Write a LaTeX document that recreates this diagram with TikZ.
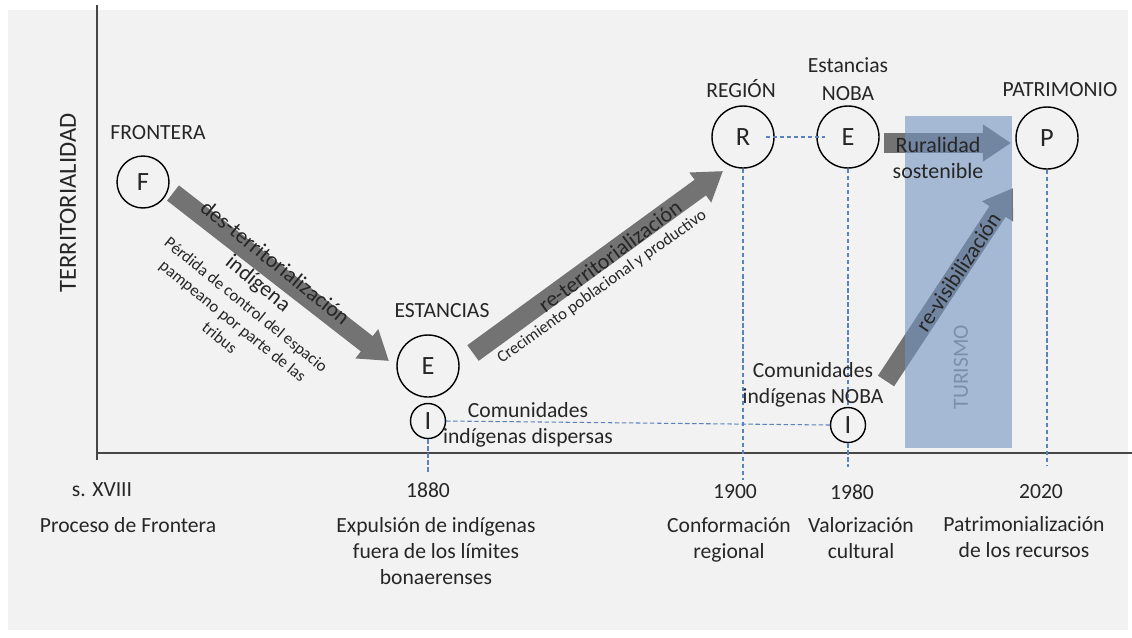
\documentclass[tikz,border=0pt]{standalone}
\usepackage{fontspec}
\setmainfont{Carlito}
\usetikzlibrary{arrows.meta}

\definecolor{fondo}{RGB}{242,242,242}
\definecolor{eje}{RGB}{70,70,70}
\definecolor{flechagris}{RGB}{115,115,115}
\definecolor{guiaazul}{RGB}{90,130,195}
\definecolor{turismo}{RGB}{114,147,192}
\definecolor{texto}{RGB}{38,38,38}

\begin{document}
\begin{tikzpicture}[x=0.02cm,y=-0.02cm,
    every node/.style={text=texto,font=\fontsize{12.3}{15}\selectfont},
    circ/.style={draw=black,circle,line width=0.8pt,minimum size=1.24cm,inner sep=0pt,font=\fontsize{15}{16}\selectfont},
    circi/.style={circ,minimum size=0.7cm},
    guia/.style={draw=guiaazul,dash pattern=on 2.5pt off 1.5pt,line width=0.6pt},
    bloque/.style={draw=flechagris,line width=11pt,-{Triangle[length=16pt,width=20pt]}},
    sobre/.style={font=\fontsize{12.5}{15}\selectfont,align=center},
    peq/.style={font=\fontsize{9.5}{12}\selectfont,align=center},
    fecha/.style={align=center,anchor=north}]
    \useasboundingbox (0,0) rectangle (1132,637);
    \fill[fondo] (8,10) rectangle (1128,630);

    % Eixos
    \draw[eje,line width=1pt] (97,5) -- (97,460);
    \draw[eje,line width=1pt] (97,453) -- (1132,453);
    \node[rotate=90,font=\fontsize{14}{16}\selectfont] (terr) at (68,203) {TERRITORIALIDAD};

    % Cercles
    \node[circ,minimum size=1.04cm] (F) at (143,182) {F};
    \node[circ] (E) at (428,366) {E};
    \node[circi] (I) at (428,421) {I};
    \node[circ] (R) at (743,137) {R};
    \node[circ] (EN) at (848,137) {E};
    \node[circi] (IN) at (848,425) {I};
    \node[circ] (P) at (1047,138) {P};

    \node (front) at (158,133) {FRONTERA};
    \node (est) at (442,311) {ESTANCIAS};
    \node (reg) at (741,89) {REGIÓN};
    \node[align=center,font=\fontsize{12.3}{16}\selectfont] (estnoba) at (848,79) {Estancias\\NOBA};
    \node (patr) at (1060,90) {PATRIMONIO};
    \node[align=center] (comdisp) at (528,425) {Comunidades\\indígenas dispersas};

    % Linies guia
    \draw[guia] (I.east) -- (IN.west);
    \draw[guia,shorten <=13pt,shorten >=13pt] (R.center) -- (EN.center);
    \coordinate (t1880) at (428,474);
    \coordinate (t1900) at (743,480);
    \coordinate (t1980) at (848,467);
    \coordinate (t2020) at (1047,466);
    \draw[guia] (I.south) -- (t1880);
    \draw[guia] (R.south) -- (t1900);
    \draw[guia] (EN.south) -- (IN.north);
    \draw[guia] (IN.south) -- (t1980);
    \draw[guia] (P.south) -- (t2020);

    % Fletxes
    \coordinate (a1) at (173,193); \coordinate (b1) at (389,361);
    \coordinate (a2) at (473,353); \coordinate (b2) at (723,171);
    \coordinate (a3) at (884,143); \coordinate (b3) at (1011,143);
    \coordinate (a4) at (886,381); \coordinate (b4) at (1013,188);
    \draw[bloque] (a1) -- (b1);
    \draw[bloque] (a2) -- (b2);
    \draw[bloque] (a3) -- (b3);
    \draw[bloque] (a4) -- (b4);

    % Franja turisme
    \fill[turismo,opacity=0.6] (905,116) rectangle (1012,448);
    \node[rotate=90,text={rgb,255:red,125;green,142;blue,168}] (tur) at (961,367) {TURISMO};

    % Textos de les fletxes
    \node[sobre,rotate=-39] (desterr) at (266,274) {des-territorialización\\indígena};
    \node[peq,rotate=-39] (perdida) at (233,321) {Pérdida de control del espacio\\pampeano por parte de las\\tribus};
    \node[sobre,rotate=36.5] (reterr) at (610,256) {re-territorialización};
    \node[peq,rotate=35.5] (crec) at (602,287) {Crecimiento poblacional y productivo};
    \node[sobre] (rural) at (938,158) {Ruralidad\\sostenible};
    \node[sobre,rotate=56.7] (revis) at (958,272) {re-visibilización};
    \node[align=center] (comnoba) at (813,385) {Comunidades\\indígenas NOBA};

    % Linia de temps
    \node (s18) at (102,490) {s. XVIII};
    \node[fecha] (pf) at (128,511) {Proceso de Frontera};
    \node (a1880) at (428,490) {1880};
    \node[fecha] (expul) at (436,511) {Expulsión de indígenas\\fuera de los límites\\bonaerenses};
    \node (a1900) at (735,492) {1900};
    \node[fecha] (conf) at (729,511) {Conformación\\regional};
    \node (a1980) at (852,492) {1980};
    \node[fecha] (valor) at (861,511) {Valorización\\cultural};
    \node (a2020) at (1041,492) {2020};
    \node[fecha] (patrim) at (1024,510) {Patrimonialización\\de los recursos};
\end{tikzpicture}
\end{document}
